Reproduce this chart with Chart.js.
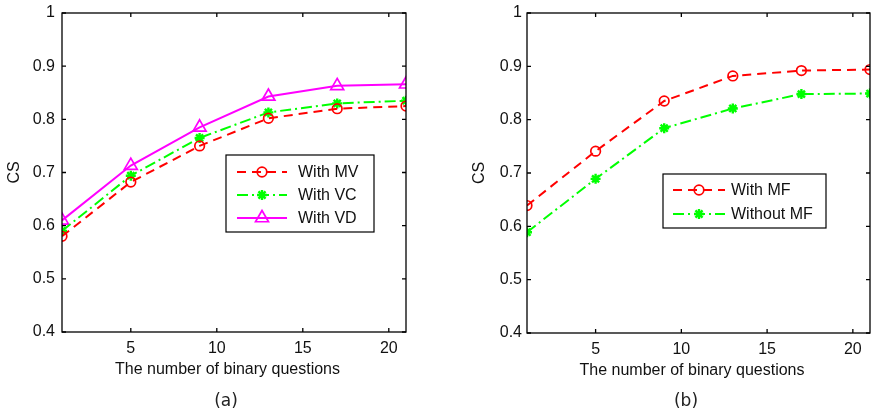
<!DOCTYPE html>
<html><head><meta charset="utf-8">
<script src="https://cdn.jsdelivr.net/npm/chart.js@4.4.1/dist/chart.umd.min.js"></script>
<style>
html,body{margin:0;padding:0;background:#fff;width:871px;height:417px;overflow:hidden}
.wrap{position:absolute;top:0;height:417px}
#wa{left:0;width:440px}
#wb{left:440px;width:431px}
canvas{display:block}
</style></head><body>
<div class="wrap" id="wa"><canvas id="ca" width="440" height="417"></canvas></div>
<div class="wrap" id="wb"><canvas id="cb" width="431" height="417"></canvas></div>
<script>
// ---- data ----
const questions = [1, 5, 9, 13, 17, 21];
const withMV    = [0.580, 0.682, 0.750, 0.802, 0.820, 0.825];
const withVC    = [0.590, 0.694, 0.765, 0.813, 0.830, 0.835];
const withVD    = [0.610, 0.713, 0.785, 0.843, 0.863, 0.866];
const withMF    = [0.639, 0.741, 0.835, 0.882, 0.892, 0.894];
const withoutMF = [0.589, 0.689, 0.784, 0.821, 0.848, 0.849];
const xTicks = [5, 10, 15, 20];
const yTicks = [0.4, 0.5, 0.6, 0.7, 0.8, 0.9, 1];
const xTitle = 'The number of binary questions';
const yTitle = 'CS';

const FONT = '"Liberation Sans", Arial, sans-serif';
Chart.defaults.font.family = FONT;
Chart.defaults.font.size = 16;
Chart.defaults.color = '#111';

function pts(ys){ return questions.map((x,i)=>({x:x, y:ys[i]})); }

const STY = {
  mv:  {borderColor:'#ff0000', borderDash:[9,6], borderWidth:2, pointStyle:'circle', pointRadius:4.8, pointBorderWidth:1.7},
  vc:  {borderColor:'#00ff00', borderDash:[11,4,2,4], borderWidth:2, pointStyle:'star', pointRadius:5, pointBorderWidth:2.4},
  vd:  {borderColor:'#ff00ff', borderDash:[], borderWidth:2, pointStyle:'triangle', pointRadius:7.5, pointBorderWidth:1.7}
};
function ds(label, ys, s){
  return Object.assign({label:label, data:pts(ys), tension:0, fill:false,
    pointBorderColor:s.borderColor, pointBackgroundColor:'rgba(0,0,0,0)'}, s);
}

function drawMarker(ctx, style, x, y, r, color, lw){
  ctx.save();
  ctx.setLineDash([]);
  ctx.strokeStyle = color; ctx.lineWidth = lw; ctx.fillStyle = 'rgba(0,0,0,0)';
  if (Chart.helpers && Chart.helpers.drawPoint) {
    Chart.helpers.drawPoint(ctx, {pointStyle:style, radius:r, rotation:0, borderWidth:lw}, x, y);
  } else {
    ctx.beginPath();
    if (style==='circle') ctx.arc(x,y,r,0,Math.PI*2);
    else if (style==='triangle'){ for(let k=0;k<3;k++){const a=-Math.PI/2+k*2*Math.PI/3; const px=x+Math.cos(a)*r, py=y+Math.sin(a)*r; k?ctx.lineTo(px,py):ctx.moveTo(px,py);} ctx.closePath(); }
    else { for(let k=0;k<4;k++){const a=k*Math.PI/4; ctx.moveTo(x+Math.cos(a)*r,y+Math.sin(a)*r); ctx.lineTo(x-Math.cos(a)*r,y-Math.sin(a)*r);} }
    ctx.stroke();
  }
  ctx.restore();
}

function decor(cfg){
  return {
    id:'decor',
    beforeDraw(chart){
      // offset the x-axis title only while the axis layer is drawn
      const sx = chart.scales.x;
      sx.left += cfg.titleShift; sx.right += cfg.titleShift;
    },
    beforeDatasetsDraw(chart){
      const sx = chart.scales.x;
      sx.left -= cfg.titleShift; sx.right -= cfg.titleShift;
    },
    afterDraw(chart){
      const ctx = chart.ctx, a = chart.chartArea, sx = chart.scales.x, sy = chart.scales.y;
      ctx.save();
      ctx.setLineDash([]);
      ctx.strokeStyle = '#000'; ctx.lineWidth = 1.3;
      ctx.strokeRect(a.left, a.top, a.right - a.left, a.bottom - a.top);
      ctx.beginPath();
      xTicks.forEach(v=>{ const p = sx.getPixelForValue(v);
        ctx.moveTo(p, a.bottom); ctx.lineTo(p, a.bottom-4);
        ctx.moveTo(p, a.top); ctx.lineTo(p, a.top+4); });
      yTicks.forEach(v=>{ const p = sy.getPixelForValue(v);
        ctx.moveTo(a.left, p); ctx.lineTo(a.left+4, p);
        ctx.moveTo(a.right, p); ctx.lineTo(a.right-4, p); });
      ctx.stroke();
      // legend
      const L = cfg.legend;
      ctx.fillStyle = '#fff';
      ctx.fillRect(L.x, L.y, L.w, L.h);
      ctx.lineWidth = 1.2; ctx.strokeStyle = '#000';
      ctx.strokeRect(L.x, L.y, L.w, L.h);
      chart.data.datasets.forEach((d,i)=>{
        const y = L.rows[i];
        ctx.save();
        ctx.strokeStyle = d.borderColor; ctx.lineWidth = d.borderWidth;
        ctx.setLineDash(d.borderDash || []);
        ctx.beginPath(); ctx.moveTo(L.s0, y); ctx.lineTo(L.s1, y); ctx.stroke();
        ctx.restore();
        drawMarker(ctx, d.pointStyle, (L.s0+L.s1)/2, y, d.pointRadius, d.borderColor, d.pointBorderWidth);
        ctx.fillStyle = '#111';
        ctx.font = '16px ' + FONT;
        ctx.textAlign = 'left'; ctx.textBaseline = 'middle';
        ctx.fillText(d.label, L.tx, y+1);
      });
      // caption
      ctx.fillStyle = '#222';
      ctx.font = '17px "DejaVu Sans", sans-serif';
      ctx.textAlign = 'center'; ctx.textBaseline = 'middle';
      ctx.fillText(cfg.caption, cfg.capX, 402);
      ctx.restore();
    }
  };
}

function makeChart(id, datasets, cfg){
  return new Chart(document.getElementById(id), {
    type:'line',
    data:{datasets:datasets},
    options:{
      responsive:false, animation:false, devicePixelRatio:1,
      layout:{padding:cfg.pad, autoPadding:false},
      plugins:{legend:{display:false}, tooltip:{enabled:false}},
      scales:{
        x:{type:'linear', min:1, max:21,
          grid:{display:false, drawTicks:false}, border:{display:false},
          afterBuildTicks:s=>{ s.ticks = xTicks.map(v=>({value:v})); },
          afterFit:s=>{ s.height = 47; s.paddingLeft=0; s.paddingRight=0; s.paddingTop=0; s.paddingBottom=0; },
          ticks:{autoSkip:false, maxRotation:0, padding:7, callback:v=>String(v)},
          title:{display:true, text:xTitle, padding:{top:0,bottom:0}, font:{size:16}}
        },
        y:{type:'linear', min:0.4, max:1,
          grid:{display:false, drawTicks:false}, border:{display:false},
          afterBuildTicks:s=>{ s.ticks = yTicks.map(v=>({value:v})); },
          afterFit:s=>{ s.width = 62; s.paddingLeft=0; s.paddingRight=0; s.paddingTop=0; s.paddingBottom=0; },
          ticks:{padding:cfg.ypad, callback:v=> v===1 ? '1' : Number(v).toFixed(1)},
          title:{display:true, text:yTitle, padding:{top:5.4,bottom:0}, font:{size:16}}
        }
      }
    },
    plugins:[decor(cfg)]
  });
}

makeChart('ca', [ds('With MV', withMV, STY.mv), ds('With VC', withVC, STY.vc), ds('With VD', withVD, STY.vd)], {
  pad:{left:0, right:34, top:13, bottom:38}, ypad:7, titleShift:-6.5,
  legend:{x:226, y:155, w:148, h:77, rows:[172,195,218], s0:237, s1:287, tx:298},
  caption:'(a)', capX:226
});
makeChart('cb', [ds('With MF', withMF, STY.mv), ds('Without MF', withoutMF, STY.vc)], {
  pad:{left:25, right:1, top:13, bottom:37}, ypad:5, titleShift:-6.5,
  legend:{x:223, y:174, w:163, h:54, rows:[190,214], s0:233, s1:285, tx:291},
  caption:'(b)', capX:246
});
</script>
</body></html>
